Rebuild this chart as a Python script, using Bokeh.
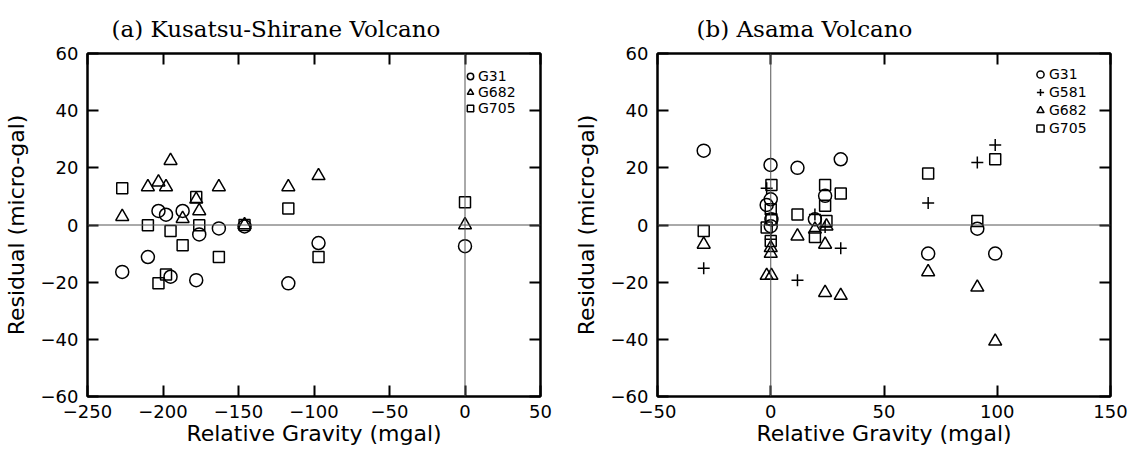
from bokeh.plotting import figure
from bokeh.models import (LinearAxis, Span, Legend, LegendItem, FixedTicker,
                          CustomJSTickFormatter, Range1d, Title)
from bokeh.layouts import row
from bokeh.embed import file_html
from bokeh.resources import INLINE

# ---------------- data: (a) Kusatsu-Shirane Volcano ----------------
a_x = [-227, -210, -203, -198, -195, -187, -178, -176, -163, -146, -117, -97, 0]
a_g31 = [-16.4, -11.2, 4.9, 3.6, -18.1, 4.9, -19.3, -3.3, -1.2, -0.5, -20.4, -6.3, -7.4]
a_g682 = [2.9, 13.3, 15.0, 13.3, 22.5, 2.2, 9.0, 4.9, 13.3, 0.0, 13.3, 17.2, 0.0]
a_g705 = [12.9, -0.1, -20.4, -17.3, -2.1, -7.1, 9.8, -0.1, -11.2, 0.0, 5.8, -11.2, 8.0]

# ---------------- data: (b) Asama Volcano ----------------
b_g31_x = [-29.6, -0.1, 11.8, 30.9, 0.0, -1.8, 24.0, 19.5, 0.3, 0.0, 91.2, 69.5, 99.1]
b_g31_y = [26, 21, 20, 23, 9, 7, 10.2, 2, 2, -0.4, -1.3, -10, -10]
b_g581_x = [-29.6, -1.8, 11.8, 30.9, 19.5, 24.0, 0.0, 99.1, 91.2, 69.5]
b_g581_y = [-15.1, 12.9, -19.3, -8.1, 3.7, -0.7, -5.0, 28.0, 21.9, 7.7]
b_g682_x = [-29.6, 11.8, 19.5, 24.6, 24.0, 0.0, 0.0, -1.8, 0.3, 24.0, 30.9, 69.5, 91.2, 99.1]
b_g682_y = [-6.8, -3.9, -1.5, -0.4, -6.8, -8.0, -10.0, -17.7, -17.7, -23.7, -24.7, -16.4, -21.8, -40.7]
b_g705_x = [-29.6, 0.3, 0.0, 0.3, -1.8, 0.0, 11.8, 24.0, 24.0, 30.9, 24.6, 19.5, 69.5, 99.1, 91.2]
b_g705_y = [-2.1, 14.0, 5.5, 2.0, -0.9, -5.6, 3.7, 14.0, 6.7, 11.0, 1.4, -4.2, 18.0, 23.0, 1.4]

a_xticks = [-250, -200, -150, -100, -50, 0, 50]
b_xticks = [-50, 0, 50, 100, 150]
yticks = [-60, -40, -20, 0, 20, 40, 60]

TICK_FONT = "DejaVu Sans"
LABEL_FONT = "DejaVu Sans"
TITLE_FONT = "DejaVu Serif"


def make_panel(title, xr, xticks, border_left, border_right, title_offset):
    p = figure(x_range=Range1d(*xr), y_range=Range1d(-60, 60),
               frame_width=453, frame_height=343,
               min_border_left=border_left, min_border_right=border_right,
               min_border_top=53, min_border_bottom=57,
               output_backend="svg", toolbar_location=None)
    p.grid.visible = False
    p.outline_line_color = "black"
    p.outline_line_width = 2
    p.background_fill_color = "white"
    p.border_fill_color = "white"

    xa = p.xaxis[0]
    ya = p.yaxis[0]
    xa.ticker = FixedTicker(ticks=xticks)
    ya.ticker = FixedTicker(ticks=yticks)
    for ax in (xa, ya):
        ax.axis_line_width = 2
        ax.axis_line_color = "black"
        ax.major_tick_in = 11
        ax.major_tick_out = 0
        ax.major_tick_line_width = 2
        ax.minor_tick_line_color = None
        ax.major_label_text_font = TICK_FONT
        ax.major_label_text_font_size = "18px"
        ax.major_label_text_color = "black"
        ax.axis_label_text_font = LABEL_FONT
        ax.axis_label_text_font_size = "22px"
        ax.axis_label_text_font_style = "normal"
        ax.axis_label_text_color = "black"
    xa.axis_label = "Relative Gravity (mgal)"
    ya.axis_label = "Residual (micro-gal)"
    xa.major_label_standoff = 8
    ya.major_label_standoff = 9
    xa.axis_label_standoff = 0
    ya.axis_label_standoff = 9

    blank = CustomJSTickFormatter(code="return ''")
    top = LinearAxis(ticker=FixedTicker(ticks=xticks), formatter=blank)
    right = LinearAxis(ticker=FixedTicker(ticks=yticks), formatter=blank)
    for ax in (top, right):
        ax.axis_line_width = 2
        ax.axis_line_color = "black"
        ax.major_tick_in = 11
        ax.major_tick_out = 0
        ax.major_tick_line_width = 2
        ax.minor_tick_line_color = None
        ax.major_label_text_font_size = "1px"
        ax.major_label_standoff = 0
    p.add_layout(top, "above")
    p.add_layout(right, "right")

    p.add_layout(Title(text=title, align="left", offset=title_offset,
                       text_font=TITLE_FONT, text_font_size="23px",
                       text_font_style="normal", text_color="black",
                       standoff=24), "above")

    p.add_layout(Span(location=0, dimension="width", line_color="#555555", line_width=1))
    p.add_layout(Span(location=0, dimension="height", line_color="#555555", line_width=1))
    return p


STYLE = dict(fill_color=None, line_color="black", line_width=1.5)
LEG = dict(padding=0, margin=0, spacing=0,
           background_fill_alpha=0, border_line_color=None,
           label_text_font=TICK_FONT, label_text_font_size="14px",
           label_text_color="black", label_height=14)

pa = make_panel("(a) Kusatsu-Shirane Volcano", (-250, 50), a_xticks, 87, 20, 24)
ra1 = pa.scatter(a_x, a_g31, marker="circle", size=13, **STYLE)
ra2 = pa.scatter(a_x, a_g682, marker="triangle", size=13, **STYLE)
ra3 = pa.scatter(a_x, a_g705, marker="square", size=11, **STYLE)
leg_a = Legend(items=[LegendItem(label="G31", renderers=[ra1]),
                      LegendItem(label="G682", renderers=[ra2]),
                      LegendItem(label="G705", renderers=[ra3])],
               location=(375, 280), glyph_width=16, glyph_height=16,
               label_standoff=-3, **LEG)
pa.add_layout(leg_a)

pb = make_panel("(b) Asama Volcano", (-50, 150), b_xticks, 97, 18, 39)
rb1 = pb.scatter(b_g31_x, b_g31_y, marker="circle", size=13, **STYLE)
rb2 = pb.scatter(b_g581_x, b_g581_y, marker="cross", size=12, **STYLE)
rb3 = pb.scatter(b_g682_x, b_g682_y, marker="triangle", size=13, **STYLE)
rb4 = pb.scatter(b_g705_x, b_g705_y, marker="square", size=11, **STYLE)
leg_b = Legend(items=[LegendItem(label="G31", renderers=[rb1]),
                      LegendItem(label="G581", renderers=[rb2]),
                      LegendItem(label="G682", renderers=[rb3]),
                      LegendItem(label="G705", renderers=[rb4])],
               location=(374, 259), glyph_width=18, glyph_height=18,
               label_standoff=-2, **LEG)
pb.add_layout(leg_b)

layout = row(pa, pb)
open("out.html", "w").write(file_html(layout, INLINE))
